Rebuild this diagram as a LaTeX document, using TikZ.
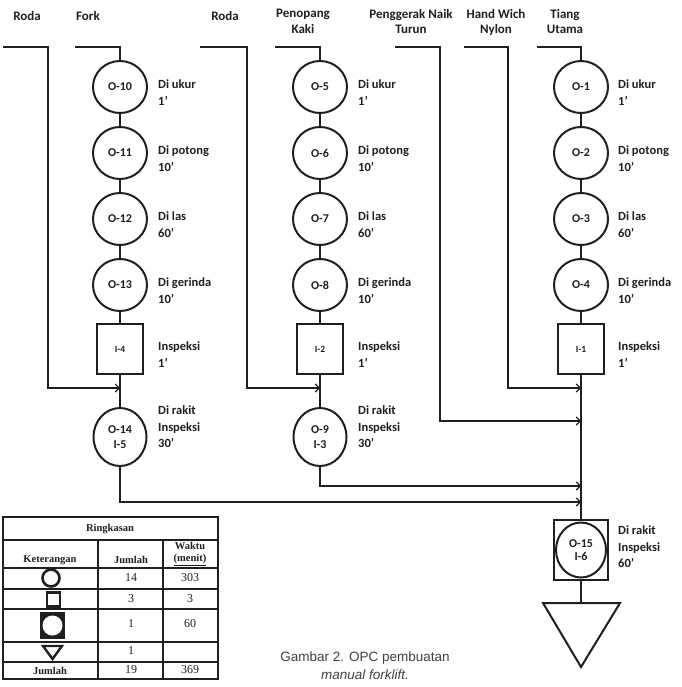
\documentclass[tikz,border=0pt]{standalone}
\usepackage{fontspec}
\setmainfont{Carlito}
\newfontfamily\tabfont{Liberation Serif}
\newfontfamily\capfont{Liberation Sans}
\usetikzlibrary{shapes.geometric,arrows.meta}
\definecolor{ink}{HTML}{1f1f1f}
\definecolor{capgray}{HTML}{404040}
\begin{document}
\begin{tikzpicture}[x=1pt,y=-1pt,
  every node/.style={text=ink},
  opnode/.style={ellipse,draw=ink,line width=2pt,minimum width=54pt,minimum height=52pt,inner sep=0pt,font=\bfseries\fontsize{12}{13}\selectfont},
  inspnode/.style={rectangle,draw=ink,line width=2pt,minimum width=46pt,minimum height=50pt,inner sep=0pt,font=\bfseries\fontsize{9.5}{10}\selectfont},
  asmnode/.style={ellipse,draw=ink,line width=2pt,minimum width=53pt,minimum height=58pt,inner sep=0pt,align=center,font=\bfseries\fontsize{12}{14.5}\selectfont},
  sidelbl/.style={anchor=north west,align=left,inner sep=0pt,font=\bfseries\fontsize{12.5}{16.5}\selectfont},
  toplbl/.style={anchor=north,align=center,inner sep=0pt,font=\bfseries\fontsize{13}{15.5}\selectfont},
  conn/.style={draw=ink,line width=1.1pt},
  arr/.style={conn,-{Straight Barb[length=4pt,width=8pt,line width=1.1pt]}},
  tabline/.style={draw=ink,line width=1.1pt},
  tabhead/.style={inner sep=0pt,font=\tabfont\bfseries\fontsize{10.5}{12}\selectfont},
  tabcell/.style={inner sep=0pt,font=\tabfont\fontsize{12}{13}\selectfont}
]
\useasboundingbox (0,0) rectangle (681,687);

% ---------- top labels ----------
\node[toplbl] (tRoda1) at (27,11) {Roda};
\node[toplbl] (tFork) at (88,11) {Fork};
\node[toplbl] (tRoda2) at (225,11) {Roda};
\node[toplbl] (tPeno) at (303,9) {Penopang\\Kaki};
\node[toplbl] (tPeng) at (411,9) {Penggerak Naik\\Turun};
\node[toplbl] (tHand) at (496,9) {Hand Wich\\Nylon};
\node[toplbl] (tTiang) at (565,9) {Tiang\\Utama};

% ---------- column 1 (Fork) ----------
\node[opnode] (o10) at (120,87) {O-10};
\node[opnode] (o11) at (120,153) {O-11};
\node[opnode] (o12) at (120,219) {O-12};
\node[opnode] (o13) at (120,285) {O-13};
\node[inspnode] (i4) at (120,349) {I-4};
\node[asmnode] (o14) at (120,437) {O-14\\I-5};

\node[sidelbl] (l10) at (158,80) {Di ukur\\1'};
\node[sidelbl] (l11) at (158,146) {Di potong\\10'};
\node[sidelbl] (l12) at (158,212) {Di las\\60'};
\node[sidelbl] (l13) at (158,278) {Di gerinda\\10'};
\node[sidelbl] (li4) at (158,342) {Inspeksi\\1'};
\node[sidelbl] (l14) at (158,406) {Di rakit\\Inspeksi\\30'};

% ---------- column 2 (Penopang Kaki) ----------
\node[opnode] (o5) at (320,87) {O-5};
\node[opnode] (o6) at (320,153) {O-6};
\node[opnode] (o7) at (320,219) {O-7};
\node[opnode] (o8) at (320,285) {O-8};
\node[inspnode] (i2) at (320,349) {I-2};
\node[asmnode] (o9) at (320,437) {O-9\\I-3};

\node[sidelbl] (l5) at (358,80) {Di ukur\\1'};
\node[sidelbl] (l6) at (358,146) {Di potong\\10'};
\node[sidelbl] (l7) at (358,212) {Di las\\60'};
\node[sidelbl] (l8) at (358,278) {Di gerinda\\10'};
\node[sidelbl] (li2) at (358,342) {Inspeksi\\1'};
\node[sidelbl] (l9) at (358,406) {Di rakit\\Inspeksi\\30'};

% ---------- column 3 (Tiang Utama) ----------
\node[opnode] (o1) at (581,87) {O-1};
\node[opnode] (o2) at (581,153) {O-2};
\node[opnode] (o3) at (581,219) {O-3};
\node[opnode] (o4) at (581,285) {O-4};
\node[inspnode] (i1) at (581,349) {I-1};

\node[sidelbl] (l1) at (618,80) {Di ukur\\1'};
\node[sidelbl] (l2) at (618,146) {Di potong\\10'};
\node[sidelbl] (l3) at (618,212) {Di las\\60'};
\node[sidelbl] (l4) at (618,278) {Di gerinda\\10'};
\node[sidelbl] (li1) at (618,342) {Inspeksi\\1'};

% ---------- final assembly ----------
\node[rectangle,draw=ink,line width=2pt,minimum width=54pt,minimum height=60pt,inner sep=0pt] (o15) at (581,550) {};
\draw[draw=ink,line width=2pt] (o15.center) ellipse (25pt and 27.5pt);
\node[align=center,inner sep=0pt,font=\bfseries\fontsize{12}{13.5}\selectfont] (o15t) at (581,550) {O-15\\I-6};
\node[sidelbl] (l15) at (618,526) {Di rakit\\Inspeksi\\60'};
\coordinate (tri) at (581,603);
\draw[draw=ink,line width=2pt,line join=miter] (543,603) -- (620,603) -- (581,667) -- cycle;

% ---------- coordinates for free ends ----------
\coordinate (r1s) at (3,47);   \coordinate (r1c) at (48,47);   \coordinate (r1d) at (48,388);  \coordinate (j1) at (120,388);
\coordinate (fk) at (75,47);
\coordinate (r2s) at (200,47); \coordinate (r2c) at (247,47);  \coordinate (r2d) at (247,388); \coordinate (j2) at (320,388);
\coordinate (pks) at (275,47);
\coordinate (pgs) at (395,47); \coordinate (pgc) at (440,47);  \coordinate (pgd) at (440,421); \coordinate (j3) at (581,421);
\coordinate (hws) at (464,47); \coordinate (hwc) at (508,47);  \coordinate (hwd) at (508,388); \coordinate (j4) at (581,388);
\coordinate (tus) at (537,47);
\coordinate (j5) at (581,486);
\coordinate (j6) at (581,502);

% ---------- connectors ----------
\draw[conn] (fk) -| (o10.north);
\draw[conn] (o10) -- (o11) (o11) -- (o12) (o12) -- (o13) (o13) -- (i4) (i4) -- (o14);
\draw[arr] (r1s) -- (r1c) -- (r1d) -- (j1);

\draw[conn] (pks) -| (o5.north);
\draw[conn] (o5) -- (o6) (o6) -- (o7) (o7) -- (o8) (o8) -- (i2) (i2) -- (o9);
\draw[arr] (r2s) -- (r2c) -- (r2d) -- (j2);

\draw[conn] (tus) -| (o1.north);
\draw[conn] (o1) -- (o2) (o2) -- (o3) (o3) -- (o4) (o4) -- (i1) (i1) -- (o15);
\draw[arr] (hws) -- (hwc) -- (hwd) -- (j4);
\draw[arr] (pgs) -- (pgc) -- (pgd) -- (j3);
\draw[arr] (o9.south) |- (j5);
\draw[arr] (o14.south) |- (j6);
\draw[conn] (o15.south) -- (tri);

% ---------- summary table ----------
\draw[tabline] (3,517) rectangle (218,679);
\draw[tabline] (3,540) -- (218,540);
\draw[tabline] (3,568) -- (218,568);
\draw[tabline] (3,589) -- (218,589);
\draw[tabline] (3,609) -- (218,609);
\draw[tabline] (3,642) -- (218,642);
\draw[tabline] (3,662) -- (218,662);
\draw[tabline] (98,540) -- (98,679);
\draw[tabline] (163,540) -- (163,679);

\node[tabhead] (tRing) at (110,529) {Ringkasan};
\node[tabhead] (tKet) at (50,560) {Keterangan};
\node[tabhead] (tJml) at (131,560) {Jumlah};
\node[tabhead,align=center,font=\tabfont\bfseries\fontsize{10.5}{12.5}\selectfont] (tWak) at (190,554) {Waktu\\\underline{(menit)}};

\node[tabcell] (c14) at (131,578) {14};
\node[tabcell] (c303) at (190,578) {303};
\node[tabcell] (c3a) at (131,599) {3};
\node[tabcell] (c3b) at (190,599) {3};
\node[tabcell] (c1a) at (131,624) {1};
\node[tabcell] (c60) at (190,624) {60};
\node[tabcell] (c1b) at (131,651) {1};
\node[tabhead] (tJ2) at (50,671) {Jumlah};
\node[tabcell] (c19) at (131,670) {19};
\node[tabcell] (c369) at (190,670) {369};

% legend symbols
\draw[draw=ink,line width=2.6pt] (51,578) circle (8.5pt);
\draw[draw=ink,line width=2.2pt] (47,592.5) rectangle (60,606.5);
\fill[ink] (40,612) rectangle (65,639);
\fill[white] (52.5,625.5) circle (10pt);
\draw[draw=ink,line width=2.4pt,line join=miter] (43,646) -- (62,646) -- (52.5,659) -- cycle;

% ---------- caption ----------
\node[align=center,inner sep=0pt,text=capgray,font=\capfont\fontsize{13.5}{18}\selectfont] (cap) at (365,666) {Gambar 2. OPC pembuatan\\\textit{manual forklift.}};
\end{tikzpicture}
\end{document}
